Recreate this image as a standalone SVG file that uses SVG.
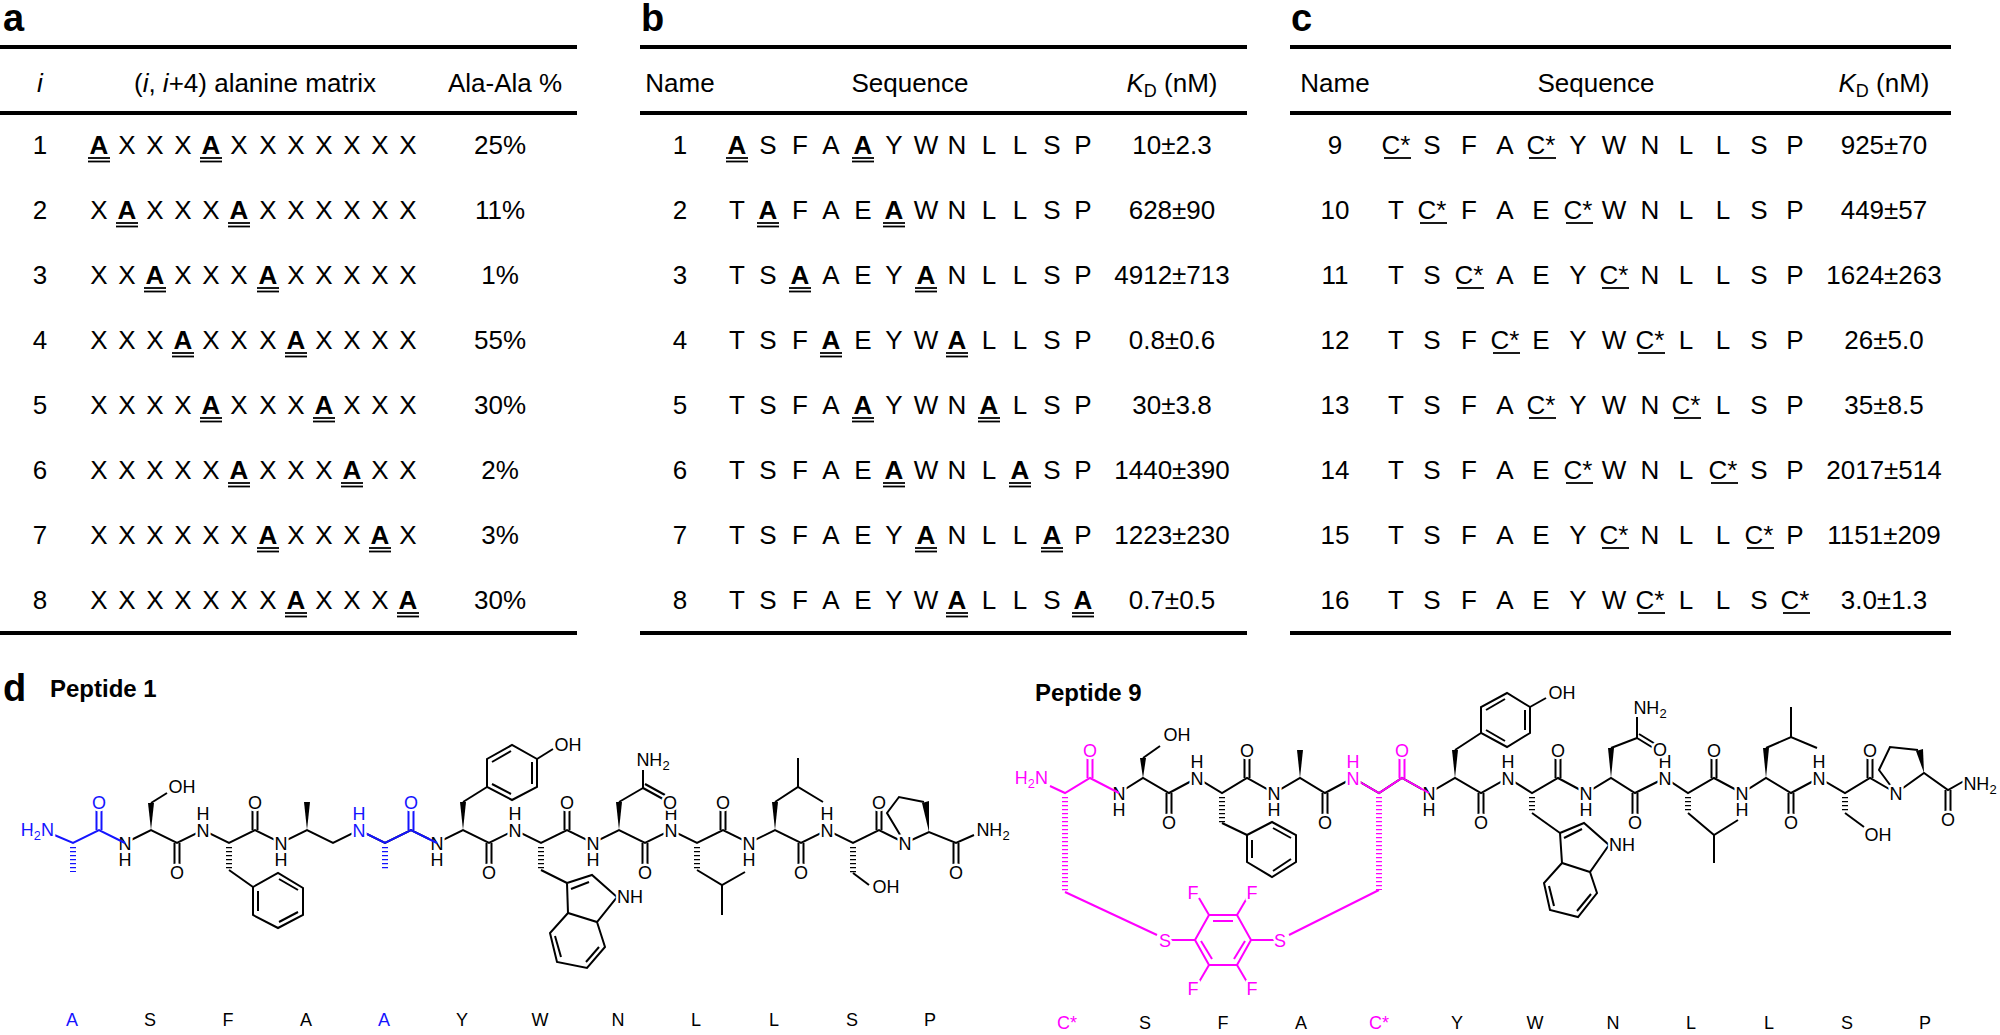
<svg xmlns="http://www.w3.org/2000/svg" xmlns:xlink="http://www.w3.org/1999/xlink" width="2000" height="1035" viewBox="0 0 2000 1035">
<style>
.t{font-family:"Liberation Sans",Arial,sans-serif;font-size:26px;text-anchor:middle;fill:#000}
.b{font-weight:bold}
.lab{font-family:"Liberation Sans",Arial,sans-serif;font-weight:bold;font-size:38px;fill:#000}
.ttl{font-family:"Liberation Sans",Arial,sans-serif;font-weight:bold;font-size:24px;fill:#000}
.s{font-family:"Liberation Sans",Arial,sans-serif;font-size:18px;text-anchor:middle;paint-order:stroke;stroke:#fff;stroke-width:5px;stroke-linejoin:round}
.sl{font-family:"Liberation Sans",Arial,sans-serif;font-size:18px;text-anchor:middle}
.rule{stroke:#000;stroke-width:4}
.ul{stroke:#000;stroke-width:1.8}
.k{stroke:#000;fill:#000;stroke-width:2}
.bl{stroke:#1414ff;fill:#1414ff;stroke-width:2}
.pk{stroke:#ff00ff;fill:#ff00ff;stroke-width:2}
polyline,line{fill:none}
.r{fill:none !important}
.hash{stroke-width:6;stroke-dasharray:1.3 2.7}
.wk{fill:#000;stroke:none}
</style>
<defs>
<g id="du"><line x1="-11" y1="4" x2="11" y2="4"/><line x1="-11" y1="7.5" x2="11" y2="7.5"/></g>
<g id="su"><line x1="-12" y1="4" x2="15" y2="4"/></g>
<g id="cu"><line x1="-2.5" y1="0" x2="-2.5" y2="-21"/><line x1="2.5" y1="0" x2="2.5" y2="-21"/><text class="s" x="0" y="-21.5">O</text></g>
<g id="cd"><line x1="-2.5" y1="0" x2="-2.5" y2="21"/><line x1="2.5" y1="0" x2="2.5" y2="21"/><text class="s" x="0" y="35.5">O</text></g>
<g id="nd"><text class="s" x="0" y="6.5">N</text><text class="s" x="0" y="23">H</text></g>
<g id="nu"><text class="s" x="0" y="6.5">N</text><text class="s" x="0" y="-10">H</text></g>
</defs>

<g id="panel-a">
<text class="lab" x="3" y="31">a</text>
<line class="rule" x1="0" y1="47" x2="577" y2="47"/>
<line class="rule" x1="0" y1="113" x2="577" y2="113"/>
<line class="rule" x1="0" y1="633" x2="577" y2="633"/>
<text class="t" x="40" y="92" font-style="italic">i</text>
<text class="t" x="255" y="92">(<tspan font-style="italic">i</tspan>, <tspan font-style="italic">i</tspan>+4) alanine matrix</text>
<text class="t" x="505" y="92">Ala-Ala %</text>
<text class="t" y="154"><tspan x="40">1</tspan><tspan x="99" class="b">A</tspan><tspan x="127">X</tspan><tspan x="155">X</tspan><tspan x="183">X</tspan><tspan x="211" class="b">A</tspan><tspan x="239">X</tspan><tspan x="268">X</tspan><tspan x="296">X</tspan><tspan x="324">X</tspan><tspan x="352">X</tspan><tspan x="380">X</tspan><tspan x="408">X</tspan><tspan x="500">25%</tspan></text>
<text class="t" y="219"><tspan x="40">2</tspan><tspan x="99">X</tspan><tspan x="127" class="b">A</tspan><tspan x="155">X</tspan><tspan x="183">X</tspan><tspan x="211">X</tspan><tspan x="239" class="b">A</tspan><tspan x="268">X</tspan><tspan x="296">X</tspan><tspan x="324">X</tspan><tspan x="352">X</tspan><tspan x="380">X</tspan><tspan x="408">X</tspan><tspan x="500">11%</tspan></text>
<text class="t" y="284"><tspan x="40">3</tspan><tspan x="99">X</tspan><tspan x="127">X</tspan><tspan x="155" class="b">A</tspan><tspan x="183">X</tspan><tspan x="211">X</tspan><tspan x="239">X</tspan><tspan x="268" class="b">A</tspan><tspan x="296">X</tspan><tspan x="324">X</tspan><tspan x="352">X</tspan><tspan x="380">X</tspan><tspan x="408">X</tspan><tspan x="500">1%</tspan></text>
<text class="t" y="349"><tspan x="40">4</tspan><tspan x="99">X</tspan><tspan x="127">X</tspan><tspan x="155">X</tspan><tspan x="183" class="b">A</tspan><tspan x="211">X</tspan><tspan x="239">X</tspan><tspan x="268">X</tspan><tspan x="296" class="b">A</tspan><tspan x="324">X</tspan><tspan x="352">X</tspan><tspan x="380">X</tspan><tspan x="408">X</tspan><tspan x="500">55%</tspan></text>
<text class="t" y="414"><tspan x="40">5</tspan><tspan x="99">X</tspan><tspan x="127">X</tspan><tspan x="155">X</tspan><tspan x="183">X</tspan><tspan x="211" class="b">A</tspan><tspan x="239">X</tspan><tspan x="268">X</tspan><tspan x="296">X</tspan><tspan x="324" class="b">A</tspan><tspan x="352">X</tspan><tspan x="380">X</tspan><tspan x="408">X</tspan><tspan x="500">30%</tspan></text>
<text class="t" y="479"><tspan x="40">6</tspan><tspan x="99">X</tspan><tspan x="127">X</tspan><tspan x="155">X</tspan><tspan x="183">X</tspan><tspan x="211">X</tspan><tspan x="239" class="b">A</tspan><tspan x="268">X</tspan><tspan x="296">X</tspan><tspan x="324">X</tspan><tspan x="352" class="b">A</tspan><tspan x="380">X</tspan><tspan x="408">X</tspan><tspan x="500">2%</tspan></text>
<text class="t" y="544"><tspan x="40">7</tspan><tspan x="99">X</tspan><tspan x="127">X</tspan><tspan x="155">X</tspan><tspan x="183">X</tspan><tspan x="211">X</tspan><tspan x="239">X</tspan><tspan x="268" class="b">A</tspan><tspan x="296">X</tspan><tspan x="324">X</tspan><tspan x="352">X</tspan><tspan x="380" class="b">A</tspan><tspan x="408">X</tspan><tspan x="500">3%</tspan></text>
<text class="t" y="609"><tspan x="40">8</tspan><tspan x="99">X</tspan><tspan x="127">X</tspan><tspan x="155">X</tspan><tspan x="183">X</tspan><tspan x="211">X</tspan><tspan x="239">X</tspan><tspan x="268">X</tspan><tspan x="296" class="b">A</tspan><tspan x="324">X</tspan><tspan x="352">X</tspan><tspan x="380">X</tspan><tspan x="408" class="b">A</tspan><tspan x="500">30%</tspan></text>
<g class="ul">
<use href="#du" x="99" y="154"/><use href="#du" x="211" y="154"/>
<use href="#du" x="127" y="219"/><use href="#du" x="239" y="219"/>
<use href="#du" x="155" y="284"/><use href="#du" x="268" y="284"/>
<use href="#du" x="183" y="349"/><use href="#du" x="296" y="349"/>
<use href="#du" x="211" y="414"/><use href="#du" x="324" y="414"/>
<use href="#du" x="239" y="479"/><use href="#du" x="352" y="479"/>
<use href="#du" x="268" y="544"/><use href="#du" x="380" y="544"/>
<use href="#du" x="296" y="609"/><use href="#du" x="408" y="609"/>
</g>
</g>

<g id="panel-b">
<text class="lab" x="641" y="31">b</text>
<line class="rule" x1="640" y1="47" x2="1247" y2="47"/>
<line class="rule" x1="640" y1="113" x2="1247" y2="113"/>
<line class="rule" x1="640" y1="633" x2="1247" y2="633"/>
<text class="t" x="680" y="92">Name</text>
<text class="t" x="910" y="92">Sequence</text>
<text class="t" x="1172" y="92"><tspan font-style="italic">K</tspan><tspan font-size="18" dy="5">D</tspan><tspan dy="-5"> (nM)</tspan></text>
<text class="t" y="154"><tspan x="680">1</tspan><tspan x="737" class="b">A</tspan><tspan x="768">S</tspan><tspan x="800">F</tspan><tspan x="831">A</tspan><tspan x="863" class="b">A</tspan><tspan x="894">Y</tspan><tspan x="926">W</tspan><tspan x="957">N</tspan><tspan x="989">L</tspan><tspan x="1020">L</tspan><tspan x="1052">S</tspan><tspan x="1083">P</tspan><tspan x="1172">10±2.3</tspan></text>
<text class="t" y="219"><tspan x="680">2</tspan><tspan x="737">T</tspan><tspan x="768" class="b">A</tspan><tspan x="800">F</tspan><tspan x="831">A</tspan><tspan x="863">E</tspan><tspan x="894" class="b">A</tspan><tspan x="926">W</tspan><tspan x="957">N</tspan><tspan x="989">L</tspan><tspan x="1020">L</tspan><tspan x="1052">S</tspan><tspan x="1083">P</tspan><tspan x="1172">628±90</tspan></text>
<text class="t" y="284"><tspan x="680">3</tspan><tspan x="737">T</tspan><tspan x="768">S</tspan><tspan x="800" class="b">A</tspan><tspan x="831">A</tspan><tspan x="863">E</tspan><tspan x="894">Y</tspan><tspan x="926" class="b">A</tspan><tspan x="957">N</tspan><tspan x="989">L</tspan><tspan x="1020">L</tspan><tspan x="1052">S</tspan><tspan x="1083">P</tspan><tspan x="1172">4912±713</tspan></text>
<text class="t" y="349"><tspan x="680">4</tspan><tspan x="737">T</tspan><tspan x="768">S</tspan><tspan x="800">F</tspan><tspan x="831" class="b">A</tspan><tspan x="863">E</tspan><tspan x="894">Y</tspan><tspan x="926">W</tspan><tspan x="957" class="b">A</tspan><tspan x="989">L</tspan><tspan x="1020">L</tspan><tspan x="1052">S</tspan><tspan x="1083">P</tspan><tspan x="1172">0.8±0.6</tspan></text>
<text class="t" y="414"><tspan x="680">5</tspan><tspan x="737">T</tspan><tspan x="768">S</tspan><tspan x="800">F</tspan><tspan x="831">A</tspan><tspan x="863" class="b">A</tspan><tspan x="894">Y</tspan><tspan x="926">W</tspan><tspan x="957">N</tspan><tspan x="989" class="b">A</tspan><tspan x="1020">L</tspan><tspan x="1052">S</tspan><tspan x="1083">P</tspan><tspan x="1172">30±3.8</tspan></text>
<text class="t" y="479"><tspan x="680">6</tspan><tspan x="737">T</tspan><tspan x="768">S</tspan><tspan x="800">F</tspan><tspan x="831">A</tspan><tspan x="863">E</tspan><tspan x="894" class="b">A</tspan><tspan x="926">W</tspan><tspan x="957">N</tspan><tspan x="989">L</tspan><tspan x="1020" class="b">A</tspan><tspan x="1052">S</tspan><tspan x="1083">P</tspan><tspan x="1172">1440±390</tspan></text>
<text class="t" y="544"><tspan x="680">7</tspan><tspan x="737">T</tspan><tspan x="768">S</tspan><tspan x="800">F</tspan><tspan x="831">A</tspan><tspan x="863">E</tspan><tspan x="894">Y</tspan><tspan x="926" class="b">A</tspan><tspan x="957">N</tspan><tspan x="989">L</tspan><tspan x="1020">L</tspan><tspan x="1052" class="b">A</tspan><tspan x="1083">P</tspan><tspan x="1172">1223±230</tspan></text>
<text class="t" y="609"><tspan x="680">8</tspan><tspan x="737">T</tspan><tspan x="768">S</tspan><tspan x="800">F</tspan><tspan x="831">A</tspan><tspan x="863">E</tspan><tspan x="894">Y</tspan><tspan x="926">W</tspan><tspan x="957" class="b">A</tspan><tspan x="989">L</tspan><tspan x="1020">L</tspan><tspan x="1052">S</tspan><tspan x="1083" class="b">A</tspan><tspan x="1172">0.7±0.5</tspan></text>
<g class="ul">
<use href="#du" x="737" y="154"/><use href="#du" x="863" y="154"/>
<use href="#du" x="768" y="219"/><use href="#du" x="894" y="219"/>
<use href="#du" x="800" y="284"/><use href="#du" x="926" y="284"/>
<use href="#du" x="831" y="349"/><use href="#du" x="957" y="349"/>
<use href="#du" x="863" y="414"/><use href="#du" x="989" y="414"/>
<use href="#du" x="894" y="479"/><use href="#du" x="1020" y="479"/>
<use href="#du" x="926" y="544"/><use href="#du" x="1052" y="544"/>
<use href="#du" x="957" y="609"/><use href="#du" x="1083" y="609"/>
</g>
</g>

<g id="panel-c">
<text class="lab" x="1291" y="31">c</text>
<line class="rule" x1="1290" y1="47" x2="1951" y2="47"/>
<line class="rule" x1="1290" y1="113" x2="1951" y2="113"/>
<line class="rule" x1="1290" y1="633" x2="1951" y2="633"/>
<text class="t" x="1335" y="92">Name</text>
<text class="t" x="1596" y="92">Sequence</text>
<text class="t" x="1884" y="92"><tspan font-style="italic">K</tspan><tspan font-size="18" dy="5">D</tspan><tspan dy="-5"> (nM)</tspan></text>
<text class="t" y="154"><tspan x="1335">9</tspan><tspan x="1396">C*</tspan><tspan x="1432">S</tspan><tspan x="1469">F</tspan><tspan x="1505">A</tspan><tspan x="1541">C*</tspan><tspan x="1578">Y</tspan><tspan x="1614">W</tspan><tspan x="1650">N</tspan><tspan x="1686">L</tspan><tspan x="1723">L</tspan><tspan x="1759">S</tspan><tspan x="1795">P</tspan><tspan x="1884">925±70</tspan></text>
<text class="t" y="219"><tspan x="1335">10</tspan><tspan x="1396">T</tspan><tspan x="1432">C*</tspan><tspan x="1469">F</tspan><tspan x="1505">A</tspan><tspan x="1541">E</tspan><tspan x="1578">C*</tspan><tspan x="1614">W</tspan><tspan x="1650">N</tspan><tspan x="1686">L</tspan><tspan x="1723">L</tspan><tspan x="1759">S</tspan><tspan x="1795">P</tspan><tspan x="1884">449±57</tspan></text>
<text class="t" y="284"><tspan x="1335">11</tspan><tspan x="1396">T</tspan><tspan x="1432">S</tspan><tspan x="1469">C*</tspan><tspan x="1505">A</tspan><tspan x="1541">E</tspan><tspan x="1578">Y</tspan><tspan x="1614">C*</tspan><tspan x="1650">N</tspan><tspan x="1686">L</tspan><tspan x="1723">L</tspan><tspan x="1759">S</tspan><tspan x="1795">P</tspan><tspan x="1884">1624±263</tspan></text>
<text class="t" y="349"><tspan x="1335">12</tspan><tspan x="1396">T</tspan><tspan x="1432">S</tspan><tspan x="1469">F</tspan><tspan x="1505">C*</tspan><tspan x="1541">E</tspan><tspan x="1578">Y</tspan><tspan x="1614">W</tspan><tspan x="1650">C*</tspan><tspan x="1686">L</tspan><tspan x="1723">L</tspan><tspan x="1759">S</tspan><tspan x="1795">P</tspan><tspan x="1884">26±5.0</tspan></text>
<text class="t" y="414"><tspan x="1335">13</tspan><tspan x="1396">T</tspan><tspan x="1432">S</tspan><tspan x="1469">F</tspan><tspan x="1505">A</tspan><tspan x="1541">C*</tspan><tspan x="1578">Y</tspan><tspan x="1614">W</tspan><tspan x="1650">N</tspan><tspan x="1686">C*</tspan><tspan x="1723">L</tspan><tspan x="1759">S</tspan><tspan x="1795">P</tspan><tspan x="1884">35±8.5</tspan></text>
<text class="t" y="479"><tspan x="1335">14</tspan><tspan x="1396">T</tspan><tspan x="1432">S</tspan><tspan x="1469">F</tspan><tspan x="1505">A</tspan><tspan x="1541">E</tspan><tspan x="1578">C*</tspan><tspan x="1614">W</tspan><tspan x="1650">N</tspan><tspan x="1686">L</tspan><tspan x="1723">C*</tspan><tspan x="1759">S</tspan><tspan x="1795">P</tspan><tspan x="1884">2017±514</tspan></text>
<text class="t" y="544"><tspan x="1335">15</tspan><tspan x="1396">T</tspan><tspan x="1432">S</tspan><tspan x="1469">F</tspan><tspan x="1505">A</tspan><tspan x="1541">E</tspan><tspan x="1578">Y</tspan><tspan x="1614">C*</tspan><tspan x="1650">N</tspan><tspan x="1686">L</tspan><tspan x="1723">L</tspan><tspan x="1759">C*</tspan><tspan x="1795">P</tspan><tspan x="1884">1151±209</tspan></text>
<text class="t" y="609"><tspan x="1335">16</tspan><tspan x="1396">T</tspan><tspan x="1432">S</tspan><tspan x="1469">F</tspan><tspan x="1505">A</tspan><tspan x="1541">E</tspan><tspan x="1578">Y</tspan><tspan x="1614">W</tspan><tspan x="1650">C*</tspan><tspan x="1686">L</tspan><tspan x="1723">L</tspan><tspan x="1759">S</tspan><tspan x="1795">C*</tspan><tspan x="1884">3.0±1.3</tspan></text>
<g class="ul">
<use href="#su" x="1396" y="154"/><use href="#su" x="1541" y="154"/>
<use href="#su" x="1432" y="219"/><use href="#su" x="1578" y="219"/>
<use href="#su" x="1469" y="284"/><use href="#su" x="1614" y="284"/>
<use href="#su" x="1505" y="349"/><use href="#su" x="1650" y="349"/>
<use href="#su" x="1541" y="414"/><use href="#su" x="1686" y="414"/>
<use href="#su" x="1578" y="479"/><use href="#su" x="1723" y="479"/>
<use href="#su" x="1614" y="544"/><use href="#su" x="1759" y="544"/>
<use href="#su" x="1650" y="609"/><use href="#su" x="1795" y="609"/>
</g>
</g>

<g id="panel-d-labels">
<text class="lab" x="3" y="701">d</text>
<text class="ttl" x="50" y="697">Peptide 1</text>
<text class="ttl" x="1035" y="701">Peptide 9</text>
</g>

<g id="peptide1">
<g class="k">
<polyline points="125,843 151,830 177,843 203,830 229,843 255,830 281,843 307,830 333,843 359,830 385,843 411,830 437,843 463,830 489,843 515,830 541,843 567,830 593,843 619,830 645,843 671,830 697,843 723,830 749,843 775,830 801,843 827,830 853,843 879,830 905,843"/>
<polygon class="wk" points="151,830 148,803 154,803"/>
<line x1="151" y1="803" x2="167" y2="793"/>
<line class="hash" x1="229" y1="847" x2="229" y2="870"/>
<line x1="229" y1="870" x2="253" y2="887"/>
<polygon class="r" points="253,887 278,873 303,888 303,915 278,928 253,915"/>
<line x1="279" y1="879" x2="298" y2="890"/><line x1="298" y1="912" x2="279" y2="922"/><line x1="258" y1="891" x2="258" y2="911"/>
<polygon class="wk" points="307,830 304,802 310,802"/>
<polygon class="wk" points="463,830 460,802 466,802"/>
<line x1="463" y1="802" x2="487" y2="787"/>
<polygon class="r" points="487,787 487,759 512,745 537,759 537,787 512,800"/>
<line x1="492" y1="762" x2="511" y2="751"/><line x1="532" y1="762" x2="532" y2="784"/><line x1="511" y1="794" x2="492" y2="784"/>
<line x1="537" y1="759" x2="553" y2="749"/>
<line class="hash" x1="541" y1="847" x2="541" y2="870"/>
<line x1="541" y1="870" x2="567" y2="883"/>
<polyline points="568,913 567,883 592,875 617,897 597,922 568,913 550,933 557,962 587,968 605,947 597,922"/>
<line x1="571" y1="889" x2="589" y2="882"/><line x1="555" y1="936" x2="561" y2="957"/><line x1="586" y1="962" x2="599" y2="947"/>
<polygon class="wk" points="619,830 616,802 622,802"/>
<line x1="619" y1="802" x2="643" y2="788"/><line x1="643" y1="788" x2="643" y2="770"/>
<line x1="643" y1="788" x2="663" y2="799"/><line x1="645" y1="784" x2="665" y2="795"/>
<line class="hash" x1="697" y1="847" x2="697" y2="870"/>
<polyline points="697,870 722,885 745,872"/><line x1="722" y1="885" x2="722" y2="915"/>
<polygon class="wk" points="775,830 772,802 778,802"/>
<polyline points="775,802 798,787 823,802"/><line x1="798" y1="787" x2="798" y2="758"/>
<line class="hash" x1="853" y1="847" x2="853" y2="873"/>
<line x1="853" y1="873" x2="869" y2="885"/>
<polyline points="905,843 887,813 899,797 924,802"/>
<polygon class="wk" points="929,832 922,803 929,801"/>
<polyline points="905,843 929,832 956,843 974,835"/>
<use href="#cd" x="177" y="843"/><use href="#cu" x="255" y="830"/><use href="#cd" x="489" y="843"/><use href="#cu" x="567" y="830"/><use href="#cd" x="645" y="843"/><use href="#cu" x="723" y="830"/><use href="#cd" x="801" y="843"/><use href="#cu" x="879" y="830"/><use href="#cd" x="956" y="843"/>
<use href="#nd" x="125" y="843"/><use href="#nu" x="203" y="830"/><use href="#nd" x="281" y="843"/><use href="#nd" x="437" y="843"/><use href="#nu" x="515" y="830"/><use href="#nd" x="593" y="843"/><use href="#nu" x="671" y="830"/><use href="#nd" x="749" y="843"/><use href="#nu" x="827" y="830"/>
<text class="s" x="905" y="849.5">N</text>
<text class="s" x="182" y="793">OH</text>
<text class="s" x="568" y="751">OH</text>
<text class="s" x="630" y="903">NH</text>
<text class="s" x="653" y="766">NH<tspan font-size="13" dy="4">2</tspan></text>
<text class="s" x="670" y="809">O</text>
<text class="s" x="886" y="893">OH</text>
<text class="s" x="993" y="836">NH<tspan font-size="13" dy="4">2</tspan></text>
</g>
<g class="bl">
<polyline points="52,834 73,843 99,830 125,843"/>
<polyline points="359,830 385,843 411,830 437,843"/>
<line class="hash" x1="73" y1="847" x2="73" y2="872"/>
<line class="hash" x1="385" y1="847" x2="385" y2="870"/>
<use href="#cu" x="99" y="830"/><use href="#cu" x="411" y="830"/>
<use href="#nu" x="359" y="830"/>
<text class="s" x="54" y="836" style="text-anchor:end">H<tspan font-size="13" dy="4">2</tspan><tspan dy="-4">N</tspan></text>
</g>
</g>

<g id="peptide9">
<g class="k">
<polyline points="1119,793 1143,778 1169,793 1197,778 1222,793 1247,778 1274,793 1300,778 1325,793 1353,778 1379,793 1402,778 1429,793 1455,778 1481,793 1508,778 1532,793 1558,778 1586,793 1611,778 1635,793 1665,778 1688,793 1714,778 1742,793 1766,778 1791,793 1819,778 1845,793 1870,778 1896,793"/>
<polygon class="wk" points="1143,778 1140,758 1146,758"/>
<line x1="1143" y1="758" x2="1160" y2="746"/>
<line class="hash" x1="1222" y1="797" x2="1222" y2="823"/>
<line x1="1222" y1="823" x2="1247" y2="835"/>
<polygon class="r" points="1247,835 1272,822 1296,835 1296,862 1272,877 1247,862"/>
<line x1="1273" y1="828" x2="1291" y2="838"/><line x1="1291" y1="859" x2="1273" y2="871"/><line x1="1252" y1="840" x2="1252" y2="858"/>
<polygon class="wk" points="1300,778 1297,750 1303,750"/>
<polygon class="wk" points="1455,778 1452,750 1458,750"/>
<line x1="1455" y1="750" x2="1481" y2="733"/>
<polygon class="r" points="1481,733 1481,707 1507,693 1530,707 1530,733 1507,747"/>
<line x1="1486" y1="710" x2="1505" y2="699"/><line x1="1525" y1="710" x2="1525" y2="730"/><line x1="1505" y1="741" x2="1486" y2="730"/>
<line x1="1530" y1="707" x2="1546" y2="698"/>
<line class="hash" x1="1532" y1="797" x2="1532" y2="813"/>
<line x1="1532" y1="813" x2="1560" y2="833"/>
<polyline points="1562,863 1560,833 1584,823 1609,845 1590,872 1562,863 1544,883 1550,910 1578,917 1597,893 1590,872"/>
<line x1="1564" y1="838" x2="1582" y2="829"/><line x1="1549" y1="886" x2="1554" y2="906"/><line x1="1577" y1="911" x2="1591" y2="894"/>
<polygon class="wk" points="1611,778 1608,748 1614,748"/>
<line x1="1611" y1="748" x2="1637" y2="738"/><line x1="1637" y1="738" x2="1637" y2="717"/>
<line x1="1637" y1="738" x2="1655" y2="749"/><line x1="1639" y1="734" x2="1657" y2="745"/>
<line class="hash" x1="1688" y1="797" x2="1688" y2="813"/>
<polyline points="1688,813 1714,835 1738,820"/><line x1="1714" y1="835" x2="1714" y2="863"/>
<polygon class="wk" points="1766,778 1763,748 1769,748"/>
<polyline points="1766,748 1791,737 1817,748"/><line x1="1791" y1="737" x2="1791" y2="707"/>
<line class="hash" x1="1845" y1="797" x2="1845" y2="813"/>
<line x1="1845" y1="813" x2="1864" y2="827"/>
<polyline points="1896,793 1879,770 1890,747 1918,750"/>
<polygon class="wk" points="1924,773 1916,751 1923,749"/>
<polyline points="1896,793 1924,773 1948,790 1964,781"/>
<use href="#cd" x="1169" y="793"/><use href="#cu" x="1247" y="778"/><use href="#cd" x="1325" y="793"/><use href="#cd" x="1481" y="793"/><use href="#cu" x="1558" y="778"/><use href="#cd" x="1635" y="793"/><use href="#cu" x="1714" y="778"/><use href="#cd" x="1791" y="793"/><use href="#cu" x="1870" y="778"/><use href="#cd" x="1948" y="790"/>
<use href="#nd" x="1119" y="793"/><use href="#nu" x="1197" y="778"/><use href="#nd" x="1274" y="793"/><use href="#nd" x="1429" y="793"/><use href="#nu" x="1508" y="778"/><use href="#nd" x="1586" y="793"/><use href="#nu" x="1665" y="778"/><use href="#nd" x="1742" y="793"/><use href="#nu" x="1819" y="778"/>
<text class="s" x="1896" y="799.5">N</text>
<text class="s" x="1177" y="741">OH</text>
<text class="s" x="1562" y="699">OH</text>
<text class="s" x="1622" y="851">NH</text>
<text class="s" x="1650" y="714">NH<tspan font-size="13" dy="4">2</tspan></text>
<text class="s" x="1660" y="756">O</text>
<text class="s" x="1878" y="841">OH</text>
<text class="s" x="1980" y="790">NH<tspan font-size="13" dy="4">2</tspan></text>
</g>
<g class="pk">
<polyline points="1050,786 1065,793 1090,778 1119,793"/>
<polyline points="1353,778 1379,793 1402,778 1429,793"/>
<line class="hash" x1="1065" y1="797" x2="1065" y2="892"/>
<line class="hash" x1="1379" y1="797" x2="1379" y2="890"/>
<line x1="1065" y1="892" x2="1157" y2="935"/>
<line x1="1379" y1="890" x2="1289" y2="935"/>
<line x1="1165" y1="940" x2="1195" y2="940"/><line x1="1251" y1="940" x2="1279" y2="940"/>
<polygon class="r" points="1195,940 1209,915 1237,915 1251,940 1237,965 1209,965"/>
<line x1="1213" y1="921" x2="1233" y2="921"/><line x1="1245" y1="941" x2="1234" y2="959"/><line x1="1212" y1="959" x2="1201" y2="941"/>
<line x1="1209" y1="915" x2="1199" y2="898"/><line x1="1237" y1="915" x2="1247" y2="898"/><line x1="1209" y1="965" x2="1199" y2="982"/><line x1="1237" y1="965" x2="1247" y2="982"/>
<use href="#cu" x="1090" y="778"/><use href="#cu" x="1402" y="778"/>
<use href="#nu" x="1353" y="778"/>
<text class="s" x="1048" y="784" style="text-anchor:end">H<tspan font-size="13" dy="4">2</tspan><tspan dy="-4">N</tspan></text>
<text class="s" x="1165" y="946.5">S</text><text class="s" x="1280" y="946.5">S</text>
<text class="s" x="1193" y="898.5">F</text><text class="s" x="1252" y="898.5">F</text>
<text class="s" x="1193" y="994.5">F</text><text class="s" x="1252" y="994.5">F</text>
</g>
</g>

<g id="sequence-labels">
<text class="sl" y="1026"><tspan x="72" fill="#1414ff">A</tspan><tspan x="150">S</tspan><tspan x="228">F</tspan><tspan x="306">A</tspan><tspan x="384" fill="#1414ff">A</tspan><tspan x="462">Y</tspan><tspan x="540">W</tspan><tspan x="618">N</tspan><tspan x="696">L</tspan><tspan x="774">L</tspan><tspan x="852">S</tspan><tspan x="930">P</tspan></text>
<text class="sl" y="1029"><tspan x="1067" fill="#ff00ff">C*</tspan><tspan x="1145">S</tspan><tspan x="1223">F</tspan><tspan x="1301">A</tspan><tspan x="1379" fill="#ff00ff">C*</tspan><tspan x="1457">Y</tspan><tspan x="1535">W</tspan><tspan x="1613">N</tspan><tspan x="1691">L</tspan><tspan x="1769">L</tspan><tspan x="1847">S</tspan><tspan x="1925">P</tspan></text>
</g>
</svg>
